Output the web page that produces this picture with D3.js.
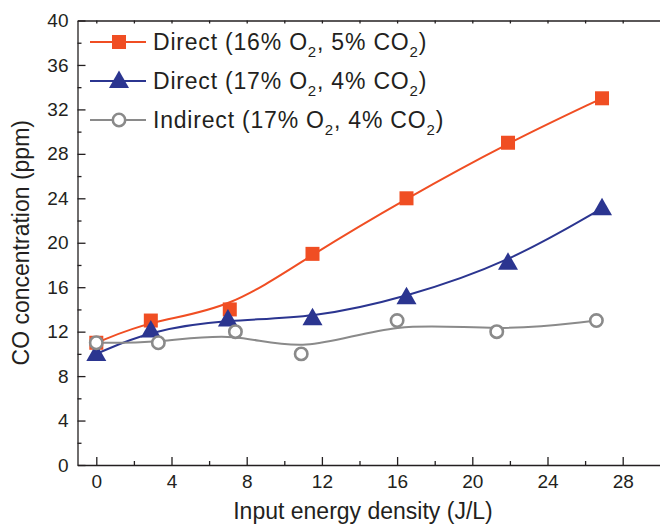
<!DOCTYPE html>
<html>
<head>
<meta charset="utf-8">
<script src="https://cdn.jsdelivr.net/npm/d3@7"></script>
<style>
  body { margin: 0; background: #fff; }
  svg { display: block; font-family: "Liberation Sans", Arial, sans-serif; }
  .axis text { fill: #231f20; font-size: 19px; }
  .axis path, .axis line { stroke: #231f20; stroke-width: 1.3; }
</style>
</head>
<body>
<div id="chart"></div>
<script>
// values
var xDirect16 = [0, 2.9, 7.1, 11.5, 16.5, 21.9, 26.9];
var yDirect16 = [11, 13, 14, 19, 24, 29, 33];
var xDirect17 = [0, 2.9, 7.0, 11.5, 16.5, 21.9, 26.9];
var yDirect17 = [10, 12.1, 13.1, 13.2, 15.1, 18.2, 23.1];
var xIndirect = [0, 3.3, 7.4, 10.9, 16.0, 21.3, 26.6];
var yIndirect = [11, 11, 12, 10, 13, 12, 13];
var xTicks = [0, 4, 8, 12, 16, 20, 24, 28];
var xMinor = [2, 6, 10, 14, 18, 22, 26, 30];
var yTicks = [0, 4, 8, 12, 16, 20, 24, 28, 32, 36, 40];
var yMinor = [2, 6, 10, 14, 18, 22, 26, 30, 34, 38];

var width = 660, height = 526;
var plotL = 77.5, plotR = 660.3, plotT = 20.5, plotB = 465;

var svg = d3.select('#chart').append('svg')
	.attr('width', width).attr('height', height);

var x = d3.scaleLinear().domain([-1, 30]).range([plotL, plotR]);
var y = d3.scaleLinear().domain([0, 40]).range([plotB, plotT]);

// axes, ticks pointing inward
svg.append('g').attr('class', 'axis').attr('transform', 'translate(0,' + plotB + ')')
	.call(d3.axisBottom(x).tickValues(xTicks).tickSizeInner(-8).tickSizeOuter(0).tickPadding(10));
svg.append('g').attr('class', 'axis').attr('transform', 'translate(0,' + plotB + ')')
	.call(d3.axisBottom(x).tickValues(xMinor).tickSizeInner(-4).tickSizeOuter(0).tickFormat(''))
	.select('.domain').remove();
svg.append('g').attr('class', 'axis').attr('transform', 'translate(' + plotL + ',0)')
	.call(d3.axisLeft(y).tickValues(yTicks).tickSizeInner(-8).tickSizeOuter(0).tickPadding(9));
svg.append('g').attr('class', 'axis').attr('transform', 'translate(' + plotL + ',0)')
	.call(d3.axisLeft(y).tickValues(yMinor).tickSizeInner(-4).tickSizeOuter(0).tickFormat(''))
	.select('.domain').remove();
// top frame
svg.append('g').attr('class', 'axis').attr('transform', 'translate(0,' + plotT + ')')
	.call(d3.axisTop(x).tickValues(xTicks.concat(xMinor)).tickSizeInner(-3).tickSizeOuter(0).tickFormat(''));

svg.append('text')
	.attr('x', 363).attr('y', 519)
	.attr('text-anchor', 'middle')
	.style('font-size', '23px').style('fill', '#231f20')
	.text('Input energy density (J/L)');
svg.append('text')
	.attr('transform', 'translate(29,' + (plotT + plotB) / 2 + ') rotate(-90)')
	.attr('text-anchor', 'middle')
	.style('font-size', '23px').style('fill', '#231f20')
	.text('CO concentration (ppm)');

var series = [
	{xs: xDirect16, ys: yDirect16, color: '#f04e23', shape: 'square',
		label: ['Direct (16% O', '2', ', 5% CO', '2', ')']},
	{xs: xDirect17, ys: yDirect17, color: '#2b3590', shape: 'triangle',
		label: ['Direct (17% O', '2', ', 4% CO', '2', ')']},
	{xs: xIndirect, ys: yIndirect, color: '#8a8a8a', shape: 'circle',
		label: ['Indirect (17% O', '2', ', 4% CO', '2', ')']}
];

function drawMarker(g, s, cx, cy) {
	if (s.shape === 'square') {
		g.append('rect').attr('x', cx - 7).attr('y', cy - 7).attr('width', 14).attr('height', 14)
			.attr('fill', s.color);
	} else if (s.shape === 'triangle') {
		g.append('path').attr('d', 'M' + cx + ',' + (cy - 10.5) + 'L' + (cx + 10) + ',' + (cy + 7) +
			'L' + (cx - 10) + ',' + (cy + 7) + 'Z').attr('fill', s.color);
	} else {
		g.append('circle').attr('cx', cx).attr('cy', cy).attr('r', 6.2)
			.attr('fill', '#fff').attr('stroke', s.color).attr('stroke-width', 2.6);
	}
}

// smoothed (B-spline) connecting lines
var line = d3.line().x(function (d) { return x(d[0]); }).y(function (d) { return y(d[1]); })
	.curve(d3.curveBasis);
series.forEach(function (s) {
	var pts = s.xs.map(function (v, i) { return [v, s.ys[i]]; });
	svg.append('path').attr('d', line(pts)).attr('fill', 'none')
		.attr('stroke', s.color).attr('stroke-width', 2);
});
series.forEach(function (s) {
	var g = svg.append('g');
	s.xs.forEach(function (v, i) { drawMarker(g, s, x(v), y(s.ys[i])); });
});

// legend
var rowY = [42, 81, 120];
series.forEach(function (s, i) {
	var g = svg.append('g');
	g.append('line').attr('x1', 90).attr('x2', 146).attr('y1', rowY[i]).attr('y2', rowY[i])
		.attr('stroke', s.color).attr('stroke-width', 2);
	drawMarker(g, s, 119, rowY[i]);
	var t = g.append('text').attr('x', 153).attr('y', rowY[i] + 8)
		.style('font-size', '23px').style('letter-spacing', '0.8px').style('fill', '#231f20');
	s.label.forEach(function (part, k) {
		var ts = t.append('tspan').text(part);
		if (k % 2 === 1) ts.style('font-size', '15px').attr('dy', 7);
		else if (k > 0) ts.attr('dy', -7);
	});
});
</script>
</body>
</html>
